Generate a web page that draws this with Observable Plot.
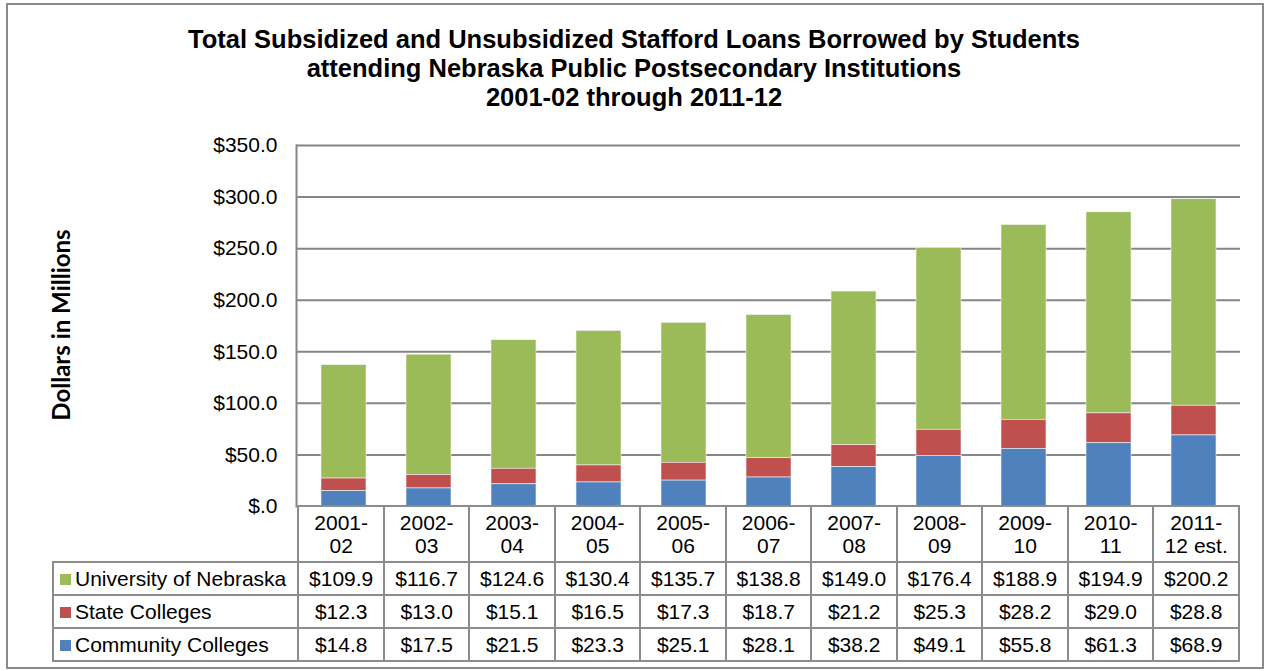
<!DOCTYPE html>
<html>
<head>
<meta charset="utf-8">
<script src="https://cdn.jsdelivr.net/npm/d3@7"></script>
<script src="https://cdn.jsdelivr.net/npm/@observablehq/plot@0.6"></script>
<style>
  html, body { margin: 0; padding: 0; background: #fff; }
  body { width: 1268px; height: 671px; position: relative; overflow: hidden; font-family: "Liberation Sans", Arial, sans-serif; }
  #frame { position: absolute; left: 6px; top: 3px; width: 1258px; height: 666px; border: 2px solid #8a8a8a; box-sizing: border-box; }
  #title { position: absolute; left: 0; top: 25px; width: 1268px; text-align: center; font-weight: bold; font-size: 25.5px; line-height: 29px; color: #000; }
  #ylabel { position: absolute; left: 60px; top: 325px; transform: translate(-50%, -50%) rotate(-90deg); white-space: nowrap; font-family: Lato, "Open Sans", sans-serif; font-weight: bold; font-size: 24px; color: #000; }
  #chart { position: absolute; left: 0; top: 130px; }
  #tbl { position: absolute; left: 52px; top: 505px; border-collapse: collapse; table-layout: fixed; font-size: 21px; color: #000; }
  #tbl td { border: 2px solid #8c8c8c; text-align: center; padding: 0; white-space: nowrap; overflow: hidden; }
  #tbl td.blank { border: none; }
  #tbl td.leg { text-align: left; padding-left: 6px; }
  #tbl tr.head td { height: 54px; line-height: 23px; }
  #tbl tr.row td { height: 31px; line-height: 31px; }
  .sw { display: inline-block; width: 11px; height: 11px; margin-right: 4px; vertical-align: 1px; }
</style>
</head>
<body>
<div id="frame"></div>
<div id="title"></div>
<div id="ylabel"></div>
<div id="chart"></div>
<table id="tbl"></table>
<script>
// ---- data ----
const categories = ["2001-02","2002-03","2003-04","2004-05","2005-06","2006-07","2007-08","2008-09","2009-10","2010-11","2011-12 est."];
const seriesNames = ["University of Nebraska","State Colleges","Community Colleges"];
const university = [109.9,116.7,124.6,130.4,135.7,138.8,149.0,176.4,188.9,194.9,200.2];
const stateColleges = [12.3,13.0,15.1,16.5,17.3,18.7,21.2,25.3,28.2,29.0,28.8];
const community = [14.8,17.5,21.5,23.3,25.1,28.1,38.2,49.1,55.8,61.3,68.9];
const seriesColors = ["#9BBB59","#C0504D","#4F81BD"];
const yTicks = [0,50,100,150,200,250,300,350];
const titleLines = ["Total Subsidized and Unsubsidized Stafford Loans Borrowed by Students","attending Nebraska Public Postsecondary Institutions","2001-02 through 2011-12"];
const yLabel = "Dollars in Millions";

const seriesValues = [university, stateColleges, community];
const fmtMoney = d => d === 0 ? "$.0" : "$" + d.toFixed(1);

// table of rows for the stacked bars
const rows = [];
seriesNames.forEach((s, si) => {
  categories.forEach((c, ci) => rows.push({cat: c, series: s, value: seriesValues[si][ci]}));
});

document.getElementById("title").innerHTML = titleLines.join("<br>");
document.getElementById("ylabel").textContent = yLabel;

const plotLeft = 296, plotRight = 1240, W = 1268;
const plot = Plot.plot({
  width: W,
  height: 376,
  marginTop: 15,
  marginBottom: 0,
  marginLeft: plotLeft,
  marginRight: W - plotRight,
  style: {fontFamily: "'Liberation Sans', Arial, sans-serif", fontSize: "21px", color: "#000", background: "transparent", overflow: "visible"},
  x: {domain: categories, paddingInner: 0.476, paddingOuter: 0.238, axis: null},
  y: {domain: [0, 350], label: null},
  color: {domain: seriesNames, range: seriesColors},
  marks: [
    Plot.gridY(yTicks.filter(d => d > 0), {stroke: "#868686", strokeOpacity: 1, strokeWidth: 2}),
    Plot.barY(rows, {
      x: "cat", y: "value", fill: "series",
      order: ["Community Colleges", "State Colleges", "University of Nebraska"],
      stroke: "#f4f4f4", strokeWidth: 0.6
    }),
    Plot.axisY({ticks: yTicks, tickFormat: fmtMoney, tickSize: 0, tickPadding: 19, label: null}),
    Plot.frame({anchor: "left", stroke: "#868686", strokeWidth: 2})
  ]
});
document.getElementById("chart").appendChild(plot);

// data table (legend + values), columns aligned with x band scale step
const xs = plot.scale("x");
const step = xs.step !== undefined ? xs.step : (plotRight - plotLeft) / categories.length;
const tbl = document.getElementById("tbl");
let html = "<colgroup><col style='width:" + (plotLeft - 52) + "px'>";
categories.forEach(() => html += "<col style='width:" + step + "px'>");
html += "</colgroup>";
html += "<tr class='head'><td class='blank'></td>";
categories.forEach(c => {
  const i = c.indexOf("-");
  html += "<td>" + c.slice(0, i + 1) + "<br>" + c.slice(i + 1) + "</td>";
});
html += "</tr>";
seriesNames.forEach((s, si) => {
  html += "<tr class='row'><td class='leg'><span class='sw' style='background:" + seriesColors[si] + "'></span>" + s + "</td>";
  seriesValues[si].forEach(v => html += "<td>" + fmtMoney(v) + "</td>");
  html += "</tr>";
});
tbl.innerHTML = html;
tbl.style.width = (plotRight - 52) + "px";
</script>
</body>
</html>
